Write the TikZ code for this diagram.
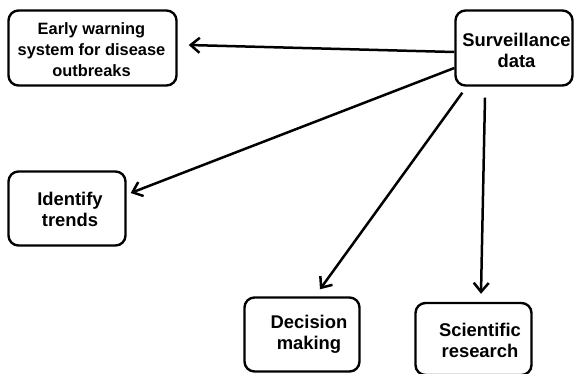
\documentclass[tikz,border=0pt]{standalone}
\usepackage{fontspec}
\setmainfont{Liberation Sans}
\usetikzlibrary{arrows.meta,calc}
\begin{document}
\begin{tikzpicture}[x=1pt,y=-1pt,
  box/.style={draw,line width=2.4pt,rounded corners=10pt,inner sep=0pt},
  txt/.style={align=center,font=\bfseries\fontsize{18.4}{21}\selectfont,inner sep=0pt},
  arr/.style={line width=2.5pt,-{Straight Barb[length=9pt,width=15pt,line width=2.5pt]}}]
\useasboundingbox (0,0) rectangle (574,373);
\node[box,minimum width=168pt,minimum height=75pt] (ew) at (92.5,48) {};
\node[txt,font=\bfseries\fontsize{16.4}{21}\selectfont] at (91.5,49.5) {Early warning\\system for disease\\outbreaks};
\node[box,minimum width=117pt,minimum height=75pt] (sv) at (514,48) {};
\node[txt] at (516.5,50) {Surveillance\\data};
\node[box,minimum width=117pt,minimum height=74pt] (idt) at (67,208.5) {};
\node[txt] at (70,209.5) {Identify\\trends};
\node[box,minimum width=115pt,minimum height=74pt] (dm) at (302,334.5) {};
\node[txt] at (309,334) {Decision\\making};
\node[box,minimum width=116pt,minimum height=72pt] (sci) at (473.5,339) {};
\node[txt] at (480,340.5) {Scientific\\research};
\draw[arr] ([yshift=-4pt]sv.west) -- ([xshift=11pt,yshift=3pt]ew.east);
\draw[arr] ([yshift=-20pt]sv.west) -- ([xshift=4pt,yshift=15.5pt]idt.east);
\draw[arr] ([xshift=8pt,yshift=-6pt]sv.south west) -- ([xshift=18pt,yshift=7pt]dm.north);
\draw[arr] ([xshift=-29pt,yshift=-11pt]sv.south) -- ([xshift=7.5pt,yshift=8pt]sci.north);
\end{tikzpicture}
\end{document}
